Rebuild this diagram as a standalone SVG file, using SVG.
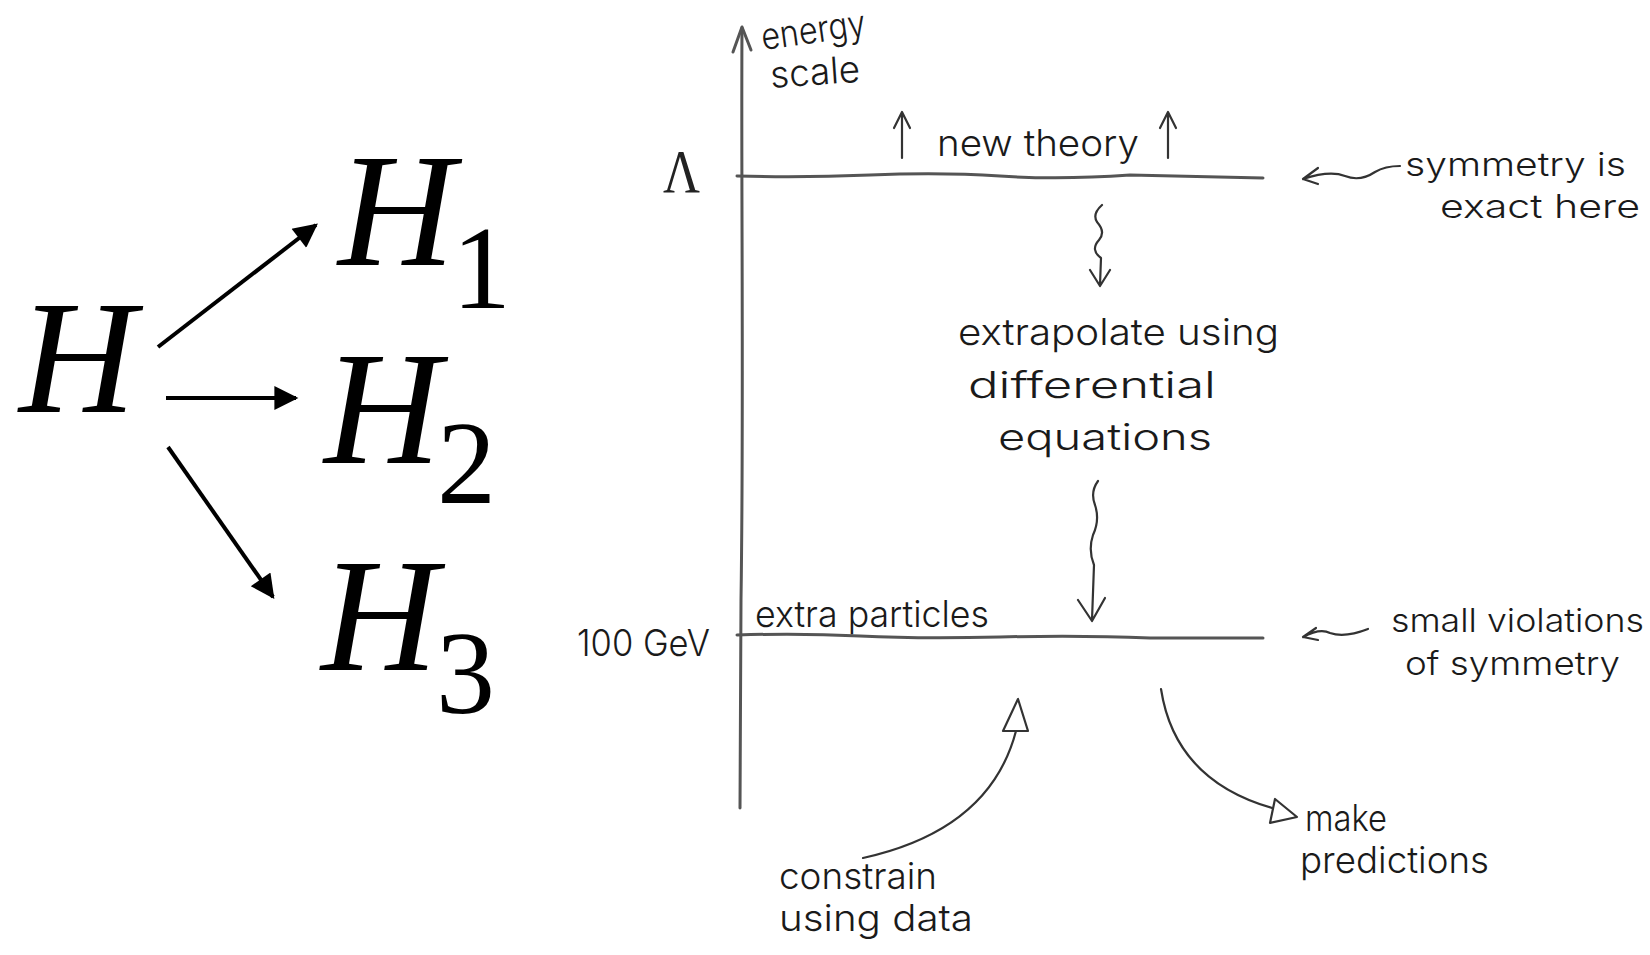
<svg xmlns="http://www.w3.org/2000/svg" width="1650" height="955" viewBox="0 0 1650 955">
<defs>
<marker id="ah" viewBox="0 0 10 10" refX="9" refY="5" markerWidth="7" markerHeight="6" markerUnits="strokeWidth" orient="auto"><path d="M0,0 L10,5 L0,10 Z" fill="#000"/></marker>
<style>
.m{font-family:"Liberation Serif",serif;font-style:italic;font-size:162px;fill:#000}
.s{font-family:"Liberation Serif",serif;font-size:118px;fill:#000}
.k{stroke:#000;stroke-width:4;fill:none}
.h{font-family:Inter,"Open Sans","Liberation Sans",sans-serif;font-weight:300;font-size:37px;fill:#1a1a1a}
.n{font-size:33px}
.ln{stroke:#555;stroke-width:3;fill:none;stroke-linecap:round;stroke-linejoin:round}
.ar{stroke:#333;stroke-width:2.2;fill:none;stroke-linecap:round;stroke-linejoin:round}
</style>
</defs>
<rect width="1650" height="955" fill="#fff"/>

<g id="node-H"><text class="m" x="19" y="412">H</text></g>
<g id="node-H1"><text class="m" x="338" y="265">H</text><text class="s" x="452" y="308">1</text></g>
<g id="node-H2"><text class="m" x="324" y="463">H</text><text class="s" x="437" y="503">2</text></g>
<g id="node-H3"><text class="m" x="321" y="670">H</text><text class="s" x="436" y="713">3</text></g>

<g id="connectors">
<line class="k" x1="158" y1="347" x2="316" y2="225" marker-end="url(#ah)"/>
<line class="k" x1="166" y1="398" x2="296" y2="398" marker-end="url(#ah)"/>
<line class="k" x1="168" y1="447" x2="273" y2="597" marker-end="url(#ah)"/>
</g>

<g id="energy-axis">
<path class="ln" d="M742,28 C741,200 744,400 741,600 L740,808"/>
<path class="ln" d="M733,52 L742,27 L751,50"/>
<text class="h" x="763" y="50" transform="rotate(-8 763 50)" textLength="105" lengthAdjust="spacingAndGlyphs">energy</text>
<text class="h" x="771" y="88" transform="rotate(-4 771 88)" textLength="90" lengthAdjust="spacingAndGlyphs">scale</text>
</g>

<g id="level-lambda">
<path class="ln" d="M737,176 Q800,178 870,175 T1000,176 T1130,175 L1263,178"/>
<text x="663" y="192" font-family="Liberation Serif,serif" font-size="62" fill="#222" textLength="37" lengthAdjust="spacingAndGlyphs">Λ</text>
<path class="ar" d="M902,158 L902,114 M894,128 L902,112 L910,128"/>
<path class="ar" d="M1168,158 L1168,114 M1160,128 L1168,112 L1176,128"/>
<text class="h" x="937" y="156" textLength="202" lengthAdjust="spacingAndGlyphs">new theory</text>
</g>

<g id="note-exact">
<path class="ar" d="M1303,179 Q1330,170 1345,176 Q1360,182 1375,172 Q1385,166 1400,166 M1303,179 L1318,168 M1303,179 L1318,184"/>
<text class="h n" x="1405" y="176" textLength="221" lengthAdjust="spacingAndGlyphs">symmetry is</text>
<text class="h n" x="1440" y="218" textLength="200" lengthAdjust="spacingAndGlyphs">exact here</text>
</g>

<g id="extrapolate">
<path class="ar" d="M1102,205 Q1092,214 1097,222 Q1106,232 1099,240 Q1090,250 1101,258 L1100,285 M1090,270 L1100,286 L1110,270"/>
<text class="h" x="958" y="345" textLength="321" lengthAdjust="spacingAndGlyphs">extrapolate using</text>
<text class="h" x="968" y="398" textLength="248" lengthAdjust="spacingAndGlyphs">differential</text>
<text class="h" x="998" y="450" textLength="214" lengthAdjust="spacingAndGlyphs">equations</text>
<path class="ar" stroke="#666" d="M1098,481 Q1090,492 1095,505 Q1100,520 1093,535 Q1088,550 1094,565 L1092,620 M1078,600 L1092,621 L1105,598"/>
</g>

<g id="level-100GeV">
<path class="ln" d="M737,635 Q800,633 860,636 T1000,637 T1150,638 L1263,638"/>
<text class="h" x="577" y="656" font-size="42" textLength="133" lengthAdjust="spacingAndGlyphs">100 GeV</text>
<text class="h" x="755" y="627" textLength="234" lengthAdjust="spacingAndGlyphs">extra particles</text>
</g>

<g id="note-violations">
<path class="ar" d="M1303,637 Q1320,628 1330,633 Q1345,638 1368,629 M1303,637 L1316,628 M1303,637 L1318,640"/>
<text class="h n" x="1391" y="632" textLength="253" lengthAdjust="spacingAndGlyphs">small violations</text>
<text class="h n" x="1405" y="675" textLength="215" lengthAdjust="spacingAndGlyphs">of symmetry</text>
</g>

<g id="constrain">
<path class="ar" d="M863,858 Q990,830 1016,731"/>
<path class="ar" d="M1018,699 L1003,731 L1028,731 Z"/>
<text class="h" x="779" y="889" textLength="158" lengthAdjust="spacingAndGlyphs">constrain</text>
<text class="h" x="779" y="931" textLength="194" lengthAdjust="spacingAndGlyphs">using data</text>
</g>

<g id="predictions">
<path class="ar" d="M1161,689 Q1175,780 1272,808"/>
<path class="ar" d="M1297,817 L1275,799 L1270,823 Z"/>
<text class="h" x="1305" y="831" textLength="82" lengthAdjust="spacingAndGlyphs">make</text>
<text class="h" x="1300" y="873" textLength="189" lengthAdjust="spacingAndGlyphs">predictions</text>
</g>
</svg>
